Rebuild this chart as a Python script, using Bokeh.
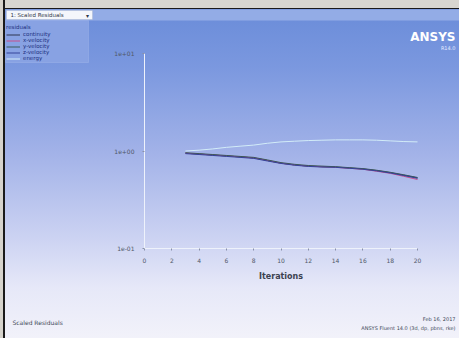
import math
from bokeh.plotting import figure
from bokeh.models import (FixedTicker, CustomJSTickFormatter, Legend, LegendItem,
                          Label, BoxAnnotation, LinearAxis, LogAxis, AllLabels)
from bokeh.embed import file_html
from bokeh.resources import INLINE

# ---- data ----
iterations = list(range(3, 21))
continuity = [0.95, 0.93, 0.91, 0.89, 0.87, 0.85, 0.80, 0.75, 0.72, 0.70,
              0.69, 0.685, 0.67, 0.655, 0.63, 0.60, 0.565, 0.53]
x_velocity = [0.95, 0.93, 0.91, 0.89, 0.87, 0.85, 0.80, 0.75, 0.72, 0.70,
              0.69, 0.68, 0.665, 0.65, 0.62, 0.59, 0.55, 0.51]
y_velocity = [0.96, 0.94, 0.92, 0.90, 0.88, 0.86, 0.81, 0.76, 0.73, 0.71,
              0.70, 0.69, 0.675, 0.66, 0.635, 0.605, 0.57, 0.535]
z_velocity = [0.94, 0.92, 0.90, 0.88, 0.86, 0.84, 0.79, 0.745, 0.715, 0.695,
              0.685, 0.68, 0.665, 0.65, 0.625, 0.595, 0.56, 0.525]
energy = [1.00, 1.02, 1.05, 1.09, 1.12, 1.15, 1.20, 1.24, 1.26, 1.28,
          1.29, 1.30, 1.30, 1.30, 1.29, 1.27, 1.25, 1.24]
x_ticks = [0.0, 2.0, 4.0, 6.0, 8.0, 10.0, 12.0, 14.0, 16.0, 18.0, 20.0]
x_tick_labels = ["0", "2", "4", "6", "8", "10", "12", "14", "16", "18", "20"]
y_ticks = [0.1, 1, 10]

series = [
    ("continuity", continuity, "#2e3650"),
    ("x-velocity", x_velocity, "#c8508c"),
    ("y-velocity", y_velocity, "#3c5a58"),
    ("z-velocity", z_velocity, "#34449a"),
    ("energy", energy, "#d2ecf8"),
]

W, H = 459, 338
# plot area in page pixels: x 0 -> 144, x 20 -> 417 ; y 10 -> 53, y 0.1 -> 248
PX0, PX1, PY_TOP, PY_BOT = 144.0, 417.0, 53.0, 248.0
xs = (PX1 - PX0) / 20.0
ys = (PY_BOT - PY_TOP) / 2.0
x_start = 0 - PX0 / xs
x_end = 20 + (W - PX1) / xs
y_end = 10 ** (1 + PY_TOP / ys)
y_start = 10 ** (-1 - (H - PY_BOT) / ys)

p = figure(width=W, height=H, output_backend="svg", toolbar_location=None,
           x_range=(x_start, x_end), y_range=(y_start, y_end), y_axis_type="log",
           x_axis_location=None, y_axis_location=None,
           min_border=0)
p.border_fill_alpha = 0
p.background_fill_alpha = 0
p.outline_line_color = None
p.grid.visible = False
p.styles = {"background":
            "linear-gradient(to right, #d6d3cc 0px, #d6d3cc 3px, #1a1a1a 3px, #1a1a1a 5px, transparent 5px), "
            "linear-gradient(to bottom, #d8d6d0 0px, #d8d6d0 8px, #1a1a1a 8px, #1a1a1a 9px, "
            "#6a8cd9 9px, #7b98df 20%, #a2b2e8 45%, #cbd2f2 70%, #e6e8f8 85%, #f2f2fa 100%)"}

renderers = []
for name, vals, col in series:
    r = p.line(iterations, vals, line_color=col, line_width=1.0)
    renderers.append((name, r))

xaxis = LinearAxis(fixed_location=0.1, bounds=(0, 20), ticker=FixedTicker(ticks=x_ticks),
                   major_label_policy=AllLabels(),
                   major_label_overrides={t: s for t, s in zip(x_ticks, x_tick_labels)})
yaxis = LogAxis(fixed_location=0, bounds=(0.1, 10), ticker=FixedTicker(ticks=y_ticks),
                major_label_policy=AllLabels())
yaxis.formatter = CustomJSTickFormatter(code="""
var e = Math.round(Math.log10(tick));
var a = Math.abs(e);
return '1e' + (e < 0 ? '-' : '+') + (a < 10 ? '0' : '') + a;
""")
for ax in (xaxis, yaxis):
    ax.axis_line_color = "#eef2fb"
    ax.major_tick_line_color = "#8890a8"
    ax.major_tick_out = 2
    ax.major_tick_in = 0
    ax.minor_tick_line_color = None
    ax.major_label_text_font = "DejaVu Sans"
    ax.major_label_text_font_size = "6px"
    ax.major_label_text_color = "#505868"
yaxis.major_label_standoff = 8
xaxis.major_label_standoff = 7
xaxis.axis_label = "Iterations"
xaxis.axis_label_text_font = "DejaVu Sans"
xaxis.axis_label_text_font_size = "8px"
xaxis.axis_label_text_font_style = "bold"
xaxis.axis_label_text_color = "#3c4250"
xaxis.axis_label_standoff = 6
p.add_layout(xaxis, "below")
p.add_layout(yaxis, "left")


# screen coordinates relative to frame bottom-left (frame = whole canvas)
def sx(px):
    return px


def sy(py):
    return H - py


def box(l, r, t, b, **kw):
    return BoxAnnotation(left=sx(l), right=sx(r), top=sy(t), bottom=sy(b),
                         left_units="screen", right_units="screen",
                         top_units="screen", bottom_units="screen", **kw)


p.add_layout(box(5, 459, 9, 20, fill_color="#93ace6", fill_alpha=1, line_color=None))
p.add_layout(box(5, 88, 20, 62, fill_color="#88a2e3", fill_alpha=1,
                 line_color="#b4c3ee", line_width=1))
p.add_layout(box(6, 92, 10, 19, fill_color="#f4f6fb", fill_alpha=1,
                 line_color="#9aa4bc", line_width=1))
p.add_layout(Label(x=sx(10), y=sy(14.5), x_units="screen", y_units="screen",
                   text="1: Scaled Residuals", text_font="DejaVu Sans",
                   text_font_size="5.5px", text_color="#303848",
                   text_baseline="middle"))
p.add_layout(Label(x=sx(87), y=sy(14.5), x_units="screen", y_units="screen",
                   text="▾", text_font="DejaVu Sans", text_align="center",
                   text_font_size="6px", text_color="#303848",
                   text_baseline="middle"))

legend = Legend(items=[LegendItem(label=n, renderers=[r]) for n, r in renderers],
                title="residuals", location=(sx(6), sy(61)))
legend.title_text_font = "DejaVu Sans"
legend.title_text_font_size = "5.5px"
legend.title_text_font_style = "normal"
legend.title_text_color = "#203080"
legend.title_standoff = 1
legend.label_text_font = "DejaVu Sans"
legend.label_text_font_size = "5.5px"
legend.label_text_color = "#203080"
legend.label_height = 5
legend.label_standoff = 3
legend.glyph_height = 5
legend.glyph_width = 14
legend.spacing = 0
legend.padding = 2
legend.margin = 0
legend.background_fill_alpha = 0
legend.border_line_color = None
p.add_layout(legend, "center")

# logo
p.add_layout(Label(x=sx(455), y=sy(36), x_units="screen", y_units="screen",
                   text="ANSYS", text_font="DejaVu Sans", text_font_style="bold",
                   text_font_size="12px", text_color="#ffffff", text_align="right",
                   text_baseline="middle"))
p.add_layout(Label(x=sx(455), y=sy(47), x_units="screen", y_units="screen",
                   text="R14.0", text_font="DejaVu Sans",
                   text_font_size="5px", text_color="#e8eeff", text_align="right",
                   text_baseline="middle"))

# footer texts
p.add_layout(Label(x=sx(12), y=sy(322), x_units="screen", y_units="screen",
                   text="Scaled Residuals", text_font="DejaVu Sans",
                   text_font_size="6px", text_color="#404858",
                   text_baseline="middle"))
p.add_layout(Label(x=sx(455), y=sy(318), x_units="screen", y_units="screen",
                   text="Feb 16, 2017", text_font="DejaVu Sans",
                   text_font_size="5px", text_color="#404858", text_align="right",
                   text_baseline="middle"))
p.add_layout(Label(x=sx(455), y=sy(327), x_units="screen", y_units="screen",
                   text="ANSYS Fluent 14.0 (3d, dp, pbns, rke)", text_font="DejaVu Sans",
                   text_font_size="5px", text_color="#404858", text_align="right",
                   text_baseline="middle"))

open("out.html", "w").write(file_html(p, INLINE))
